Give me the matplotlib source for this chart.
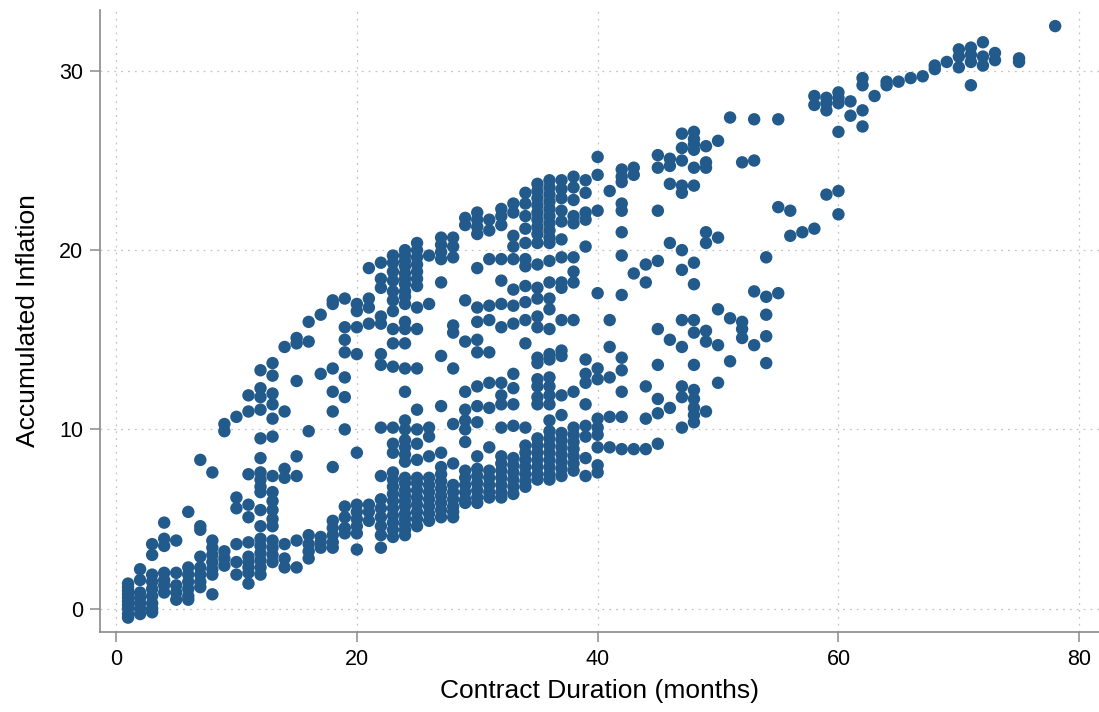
import matplotlib
matplotlib.use('Agg')
import matplotlib.pyplot as plt

plt.rcParams['font.family'] = ['Liberation Sans', 'DejaVu Sans']

months_a = [1, 2, 3, 4, 5, 6, 7, 8, 9, 10, 11]
infl_a = [
    [-0.5, -0.3, 0.0, 0.2, 0.4, 0.6, 0.8, 1.0, 1.2, 1.4],
    [2.2, 1.6, 0.9, 0.6, 0.3, 0.0, -0.3],
    [3.6, 3.0, 1.9, 1.5, 1.1, 0.7, 0.3, 0.0, -0.2],
    [4.8, 3.9, 3.5, 2.0, 1.6, 1.3, 0.9],
    [3.8, 2.0, 1.3, 0.9, 0.5],
    [5.4, 2.3, 1.9, 1.5, 1.1, 0.7, 0.5],
    [8.3, 4.6, 4.4, 2.9, 2.3, 1.9, 1.5, 1.2],
    [7.6, 3.8, 3.4, 3.0, 2.6, 2.2, 1.9, 0.8],
    [10.3, 9.9, 3.2, 2.8, 2.4],
    [10.7, 6.2, 5.6, 3.6, 2.6, 1.9],
    [11.9, 11.0, 7.5, 5.8, 5.1, 3.7, 2.9, 2.6, 2.3, 2.0, 1.4],
]

months_b = [12, 13, 14, 15, 16, 17, 18, 19, 20, 21, 22, 23]
infl_b = [
    [13.3, 12.3, 11.8, 11.1, 9.5, 8.4, 7.6, 7.2, 6.8, 6.5, 5.5, 4.6, 3.9, 3.5, 3.1, 2.7, 2.3, 1.9],
    [13.7, 13.0, 12.0, 11.4, 10.6, 9.6, 7.4, 6.5, 6.0, 5.5, 5.0, 4.6, 3.8, 3.4, 3.0, 2.6],
    [14.6, 11.0, 7.8, 7.3, 3.6, 2.8, 2.3],
    [15.1, 14.8, 12.7, 8.5, 7.4, 3.8, 2.3],
    [16.0, 14.9, 9.9, 4.1, 3.6, 3.2, 2.8],
    [16.4, 13.1, 4.0, 3.7, 3.4],
    [17.2, 17.0, 13.4, 12.1, 11.0, 7.9, 4.9, 4.5, 4.1, 3.7, 3.4],
    [17.3, 15.7, 15.0, 14.3, 12.9, 11.8, 10.0, 5.7, 5.1, 4.5, 4.2],
    [17.0, 16.6, 15.7, 14.2, 8.7, 5.8, 5.4, 5.0, 4.6, 4.2, 3.3],
    [19.0, 17.3, 16.8, 15.9, 5.8, 5.4, 4.9],
    [19.3, 18.4, 17.9, 16.3, 15.9, 14.2, 13.6, 10.1, 7.4, 6.1, 5.6, 5.1, 4.6, 4.1, 3.4],
    [19.7, 19.3, 18.8, 18.3, 17.7, 17.2, 16.6, 15.6, 14.8, 13.5, 10.1, 9.2, 8.7, 7.6, 7.2,
     6.8, 6.4, 6.0, 5.6, 5.2, 4.8, 4.4, 4.0],
]

months_c = [24, 25, 26, 27, 28, 29, 30, 31, 32, 33, 34, 35]
infl_c = [
    [20.0, 19.7, 19.4, 19.1, 18.7, 18.4, 18.1, 17.7, 17.4, 17.0, 16.0, 15.6, 14.8, 13.4, 12.1,
     10.5, 10.0, 9.4, 9.0, 8.6, 8.2, 7.3, 7.0, 6.6, 6.3, 6.0, 5.7, 5.3, 5.0, 4.7, 4.4, 4.1],
    [20.4, 20.0, 19.6, 19.2, 18.8, 18.4, 18.0, 16.8, 15.6, 13.4, 11.1, 10.0, 9.2, 8.3, 7.3,
     7.0, 6.6, 6.2, 5.8, 5.4, 5.0, 4.6],
    [19.7, 17.0, 10.1, 9.6, 8.5, 7.3, 6.9, 6.5, 6.1, 5.7, 5.3, 4.9],
    [20.7, 20.3, 19.9, 19.5, 18.2, 14.1, 11.3, 8.7, 7.9, 7.5, 7.1, 6.7, 6.3, 5.9, 5.5, 5.1],
    [20.7, 20.2, 19.6, 15.8, 15.4, 13.4, 10.3, 8.1, 6.9, 6.5, 6.1, 5.7, 5.4, 5.1],
    [21.8, 21.4, 17.2, 14.9, 12.1, 11.1, 10.5, 10.0, 9.3, 7.7, 7.3, 6.9, 6.5, 6.1, 5.9],
    [22.1, 21.7, 21.3, 20.9, 19.0, 16.8, 16.0, 15.0, 14.3, 12.4, 11.3, 10.4, 8.5, 7.8, 7.4,
     7.0, 6.6, 6.2, 5.9],
    [21.7, 21.1, 19.5, 16.9, 16.1, 14.3, 12.6, 11.2, 9.0, 7.7, 7.3, 6.9, 6.5, 6.2],
    [22.3, 21.9, 21.4, 19.5, 18.3, 17.0, 15.7, 12.6, 11.9, 11.4, 10.1, 8.5, 8.1, 7.7, 7.3,
     6.9, 6.5, 6.2],
    [22.6, 22.1, 20.8, 20.2, 19.5, 17.8, 16.9, 15.9, 13.1, 12.3, 11.4, 10.2, 8.4, 8.0, 7.6,
     7.2, 6.8, 6.4],
    [23.2, 22.6, 21.9, 21.2, 20.4, 19.5, 19.1, 18.0, 17.1, 16.1, 14.8, 10.1, 9.1, 8.7, 8.3,
     7.9, 7.5, 7.1, 6.8],
    [23.7, 23.3, 22.9, 22.5, 22.1, 21.7, 21.3, 20.9, 20.4, 19.2, 17.9, 17.3, 16.3, 15.7, 14.0,
     13.7, 12.8, 12.4, 11.8, 11.4, 9.5, 9.1, 8.7, 8.3, 7.9, 7.5, 7.2],
]

months_d = [36, 37, 38, 39, 40, 41, 42, 43, 44, 45, 46, 47]
infl_d = [
    [23.9, 23.5, 23.1, 22.7, 22.3, 21.9, 21.5, 21.1, 20.7, 20.4, 19.4, 18.2, 17.3, 16.7, 15.6,
     14.2, 13.9, 12.9, 12.4, 11.9, 11.4, 10.5, 9.9, 9.5, 9.1, 8.7, 8.3, 7.9, 7.5, 7.2],
    [23.9, 23.4, 22.9, 22.2, 21.6, 20.6, 19.6, 18.2, 17.9, 16.1, 14.4, 14.1, 11.9, 10.8, 9.8,
     9.4, 9.0, 8.6, 8.2, 7.8, 7.4],
    [24.1, 23.5, 22.8, 21.9, 21.5, 19.6, 18.8, 18.2, 16.1, 12.1, 10.1, 9.7, 9.3, 8.9, 8.5,
     8.1, 7.7],
    [23.9, 23.2, 22.1, 21.7, 20.2, 13.9, 13.1, 12.6, 11.4, 10.2, 9.6, 8.4, 7.4],
    [25.2, 24.2, 22.2, 17.6, 13.4, 12.8, 10.6, 10.1, 9.7, 9.0, 8.0, 7.6],
    [23.3, 16.1, 14.6, 12.9, 10.7, 9.0],
    [24.5, 24.1, 23.8, 22.6, 22.2, 21.0, 19.7, 17.5, 14.0, 13.3, 12.1, 10.7, 8.9],
    [24.6, 24.2, 18.7, 8.9],
    [19.2, 18.2, 12.4, 10.6, 8.9],
    [25.3, 24.6, 22.2, 19.4, 15.6, 13.6, 11.7, 10.9, 9.2],
    [25.1, 24.7, 23.7, 20.4, 15.0, 11.2],
    [26.5, 25.7, 25.0, 23.6, 23.2, 20.0, 18.9, 16.1, 14.6, 12.4, 11.8, 10.1],
]

months_e = [48, 49, 50, 51, 52, 53, 54, 55, 56, 57, 58, 59, 60, 61, 62, 63,
            64, 65, 66, 67, 68, 69, 70, 71, 72, 73, 75, 78]
infl_e = [
    [26.6, 26.2, 25.9, 25.6, 24.6, 23.6, 19.3, 18.1, 16.1, 15.4, 13.6, 12.2, 11.7, 11.2, 10.8, 10.4],
    [25.8, 24.9, 24.6, 21.0, 20.4, 15.5, 14.9, 11.0],
    [26.1, 20.7, 16.7, 14.7, 12.6],
    [27.4, 16.2, 13.8],
    [24.9, 16.0, 15.6, 15.1],
    [27.3, 25.0, 17.7, 14.7],
    [19.6, 17.4, 16.4, 15.2, 13.7],
    [27.3, 22.4, 17.6],
    [22.2, 20.8],
    [21.0],
    [28.6, 28.1, 21.2],
    [28.5, 28.2, 27.8, 23.1],
    [28.8, 28.5, 28.2, 26.6, 23.3, 22.0],
    [28.3, 27.5],
    [29.6, 29.2, 27.8, 26.9],
    [28.6],
    [29.4, 29.2],
    [29.4],
    [29.6],
    [29.7],
    [30.3, 30.1],
    [30.5],
    [31.2, 30.8, 30.2],
    [31.3, 30.9, 30.5, 29.2],
    [31.6, 30.8, 30.3],
    [31.0, 30.6],
    [30.7, 30.5],
    [32.5],
]

x = []
y = []
for ms, vals in [(months_a, infl_a), (months_b, infl_b), (months_c, infl_c),
                 (months_d, infl_d), (months_e, infl_e)]:
    for m, col in zip(ms, vals):
        for v in col:
            x.append(m)
            y.append(v)

fig = plt.figure(figsize=(10.99, 7.12), dpi=100)
ax = fig.add_axes([0.091, 0.1124, 0.909, 0.8736])

ax.scatter(x, y, s=80, color='#215a8b', edgecolors='none', zorder=3)

ax.set_xlim(-1.33, 81.64)
ax.set_ylim(-1.30, 33.4)
ax.set_xticks([0, 20, 40, 60, 80])
ax.set_yticks([0, 10, 20, 30])
ax.grid(True, color='#c4c4c4', linestyle=(0, (1.5, 4)), linewidth=0.9, zorder=0)

for side in ['top', 'right']:
    ax.spines[side].set_visible(False)
for side in ['left', 'bottom']:
    ax.spines[side].set_color('#8a8a8a')
    ax.spines[side].set_linewidth(1.2)
ax.tick_params(axis='both', colors='#8a8a8a', length=7, width=1.1, labelsize=15.5,
               labelcolor='black', pad=5)

ax.set_xlabel('Contract Duration (months)', fontsize=19, labelpad=7)
ax.set_ylabel('Accumulated Inflation', fontsize=19, labelpad=14)

fig.savefig('out.png', dpi=100)
